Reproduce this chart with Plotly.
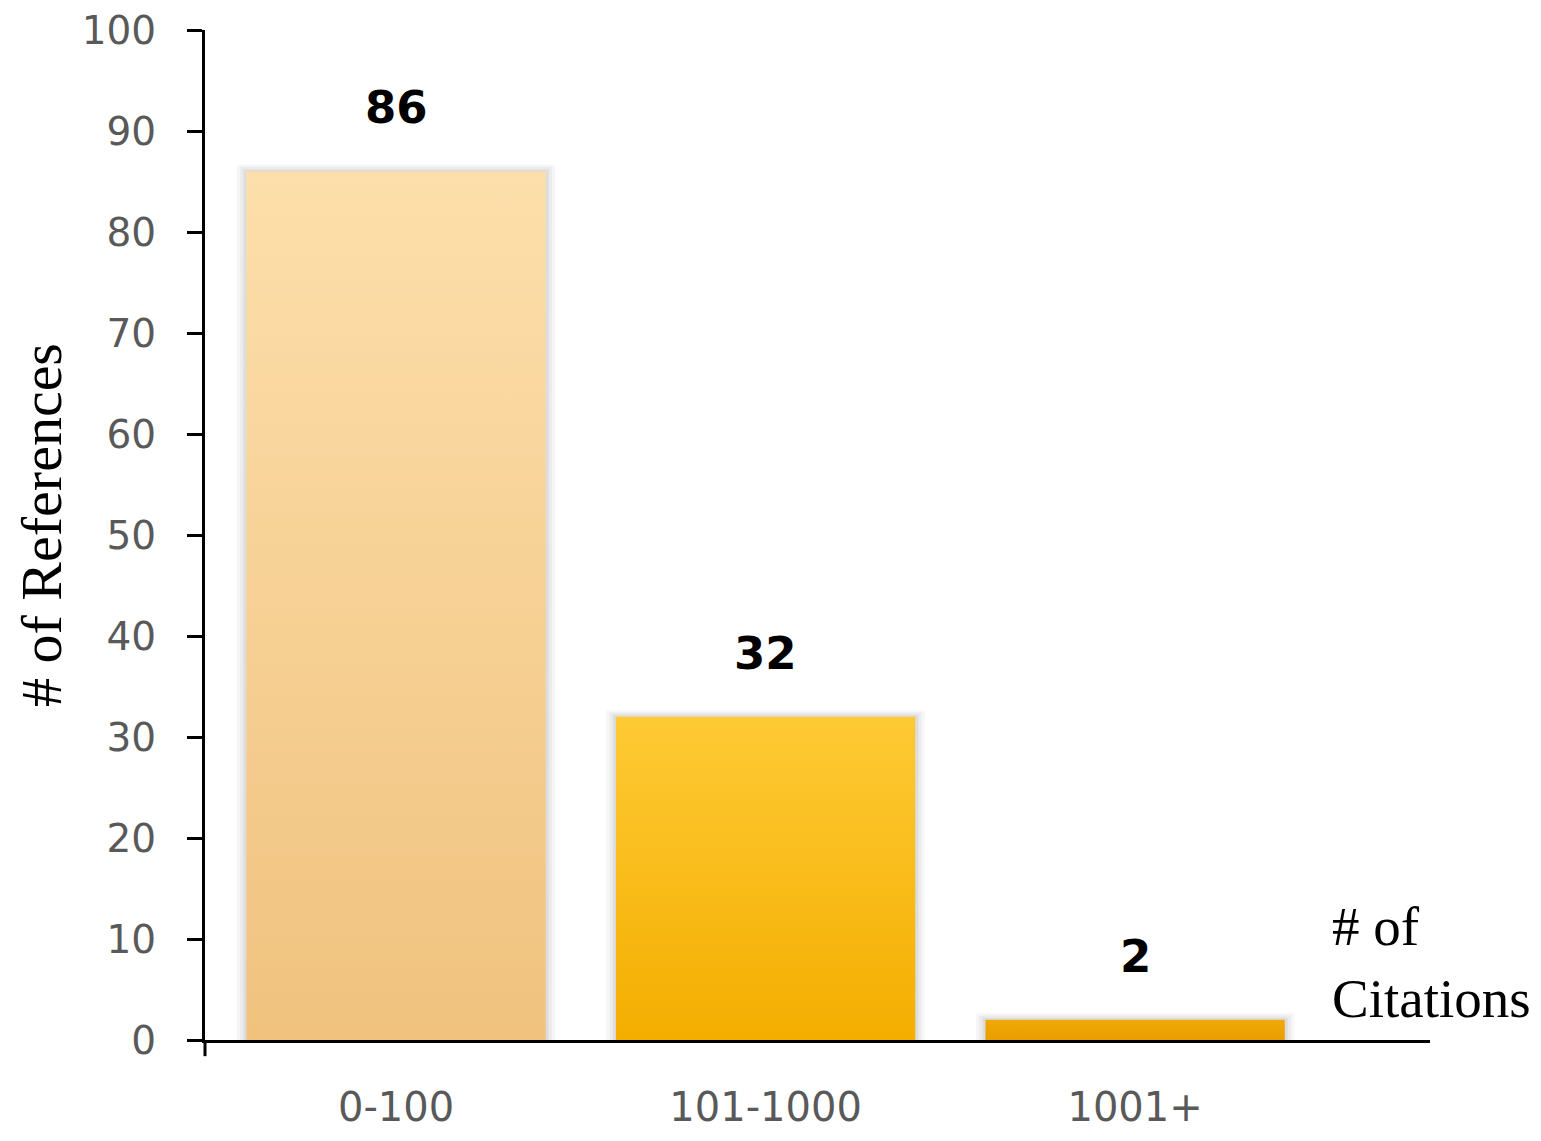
import plotly.graph_objects as go

categories = ["0-100", "101-1000", "1001+"]
counts = [86, 32, 2]
# gradient colours per bar: (bottom, top)
bar_colors = [("#F0C27E", "#FDDFAB"), ("#F4AE00", "#FECA35"), ("#E89E00", "#F0A908")]

bar_w = 0.81

fig = go.Figure()

for i, (cat, v) in enumerate(zip(categories, counts)):
    x0, x1 = i - bar_w / 2, i + bar_w / 2
    # soft shadow behind the bar
    for pad, alpha in [(0.026, 0.035), (0.017, 0.045), (0.008, 0.06)]:
        fig.add_trace(go.Scatter(
            x=[x0 - pad, x1 + pad, x1 + pad, x0 - pad, x0 - pad],
            y=[0, 0, v + pad * 25, v + pad * 25, 0],
            fill="toself", mode="none",
            fillcolor=f"rgba(0,0,0,{alpha})",
            hoverinfo="skip", showlegend=False,
        ))
    bottom, top = bar_colors[i]
    fig.add_trace(go.Scatter(
        x=[x0, x1, x1, x0, x0],
        y=[0, 0, v, v, 0],
        fill="toself", mode="none",
        fillgradient=dict(type="vertical", colorscale=[[0, bottom], [1, top]]),
        name=cat, showlegend=False,
    ))
    fig.add_annotation(
        x=i, y=v, text=f"<b>{v}</b>", showarrow=False,
        yanchor="bottom", yshift=35,
        font=dict(family="DejaVu Sans", size=45, color="black"),
    )

fig.update_xaxes(
    range=[-0.517, 2.798], automargin=False,
    tickvals=list(range(len(categories))), ticktext=categories,
    showline=True, linecolor="black", linewidth=3,
    showgrid=False, zeroline=False, ticks="",
    ticklabelstandoff=30,
    tickfont=dict(family="DejaVu Sans", size=40, color="#595959"),
)
fig.update_yaxes(
    range=[0, 100], dtick=10, automargin=False,
    showline=True, linecolor="black", linewidth=3,
    showgrid=False, zeroline=False,
    ticks="outside", ticklen=15, tickwidth=3, tickcolor="black",
    ticklabelstandoff=23, ticklabeloverflow="allow",
    tickfont=dict(family="DejaVu Sans", size=39, color="#595959"),
)

# small overhang of the y axis below the x axis
fig.add_shape(type="line", xref="paper", yref="paper",
              x0=0, x1=0, y0=0, y1=-0.016,
              line=dict(color="black", width=3))

fig.add_annotation(
    xref="paper", yref="paper", x=-0.133, y=0.51,
    text="# of References", textangle=-90, showarrow=False,
    xanchor="center", yanchor="middle",
    font=dict(family="Liberation Serif", size=58, color="black"),
)
fig.add_annotation(
    xref="paper", yref="paper", x=0.918, y=0.077,
    text="# of<br>Citations", showarrow=False, align="left",
    xanchor="left", yanchor="middle",
    font=dict(family="Liberation Serif", size=55, color="black"),
)

fig.update_layout(
    width=1541, height=1141,
    margin=dict(l=197, r=119, t=22, b=109),
    paper_bgcolor="white", plot_bgcolor="white",
)

fig.write_html("out.html")
